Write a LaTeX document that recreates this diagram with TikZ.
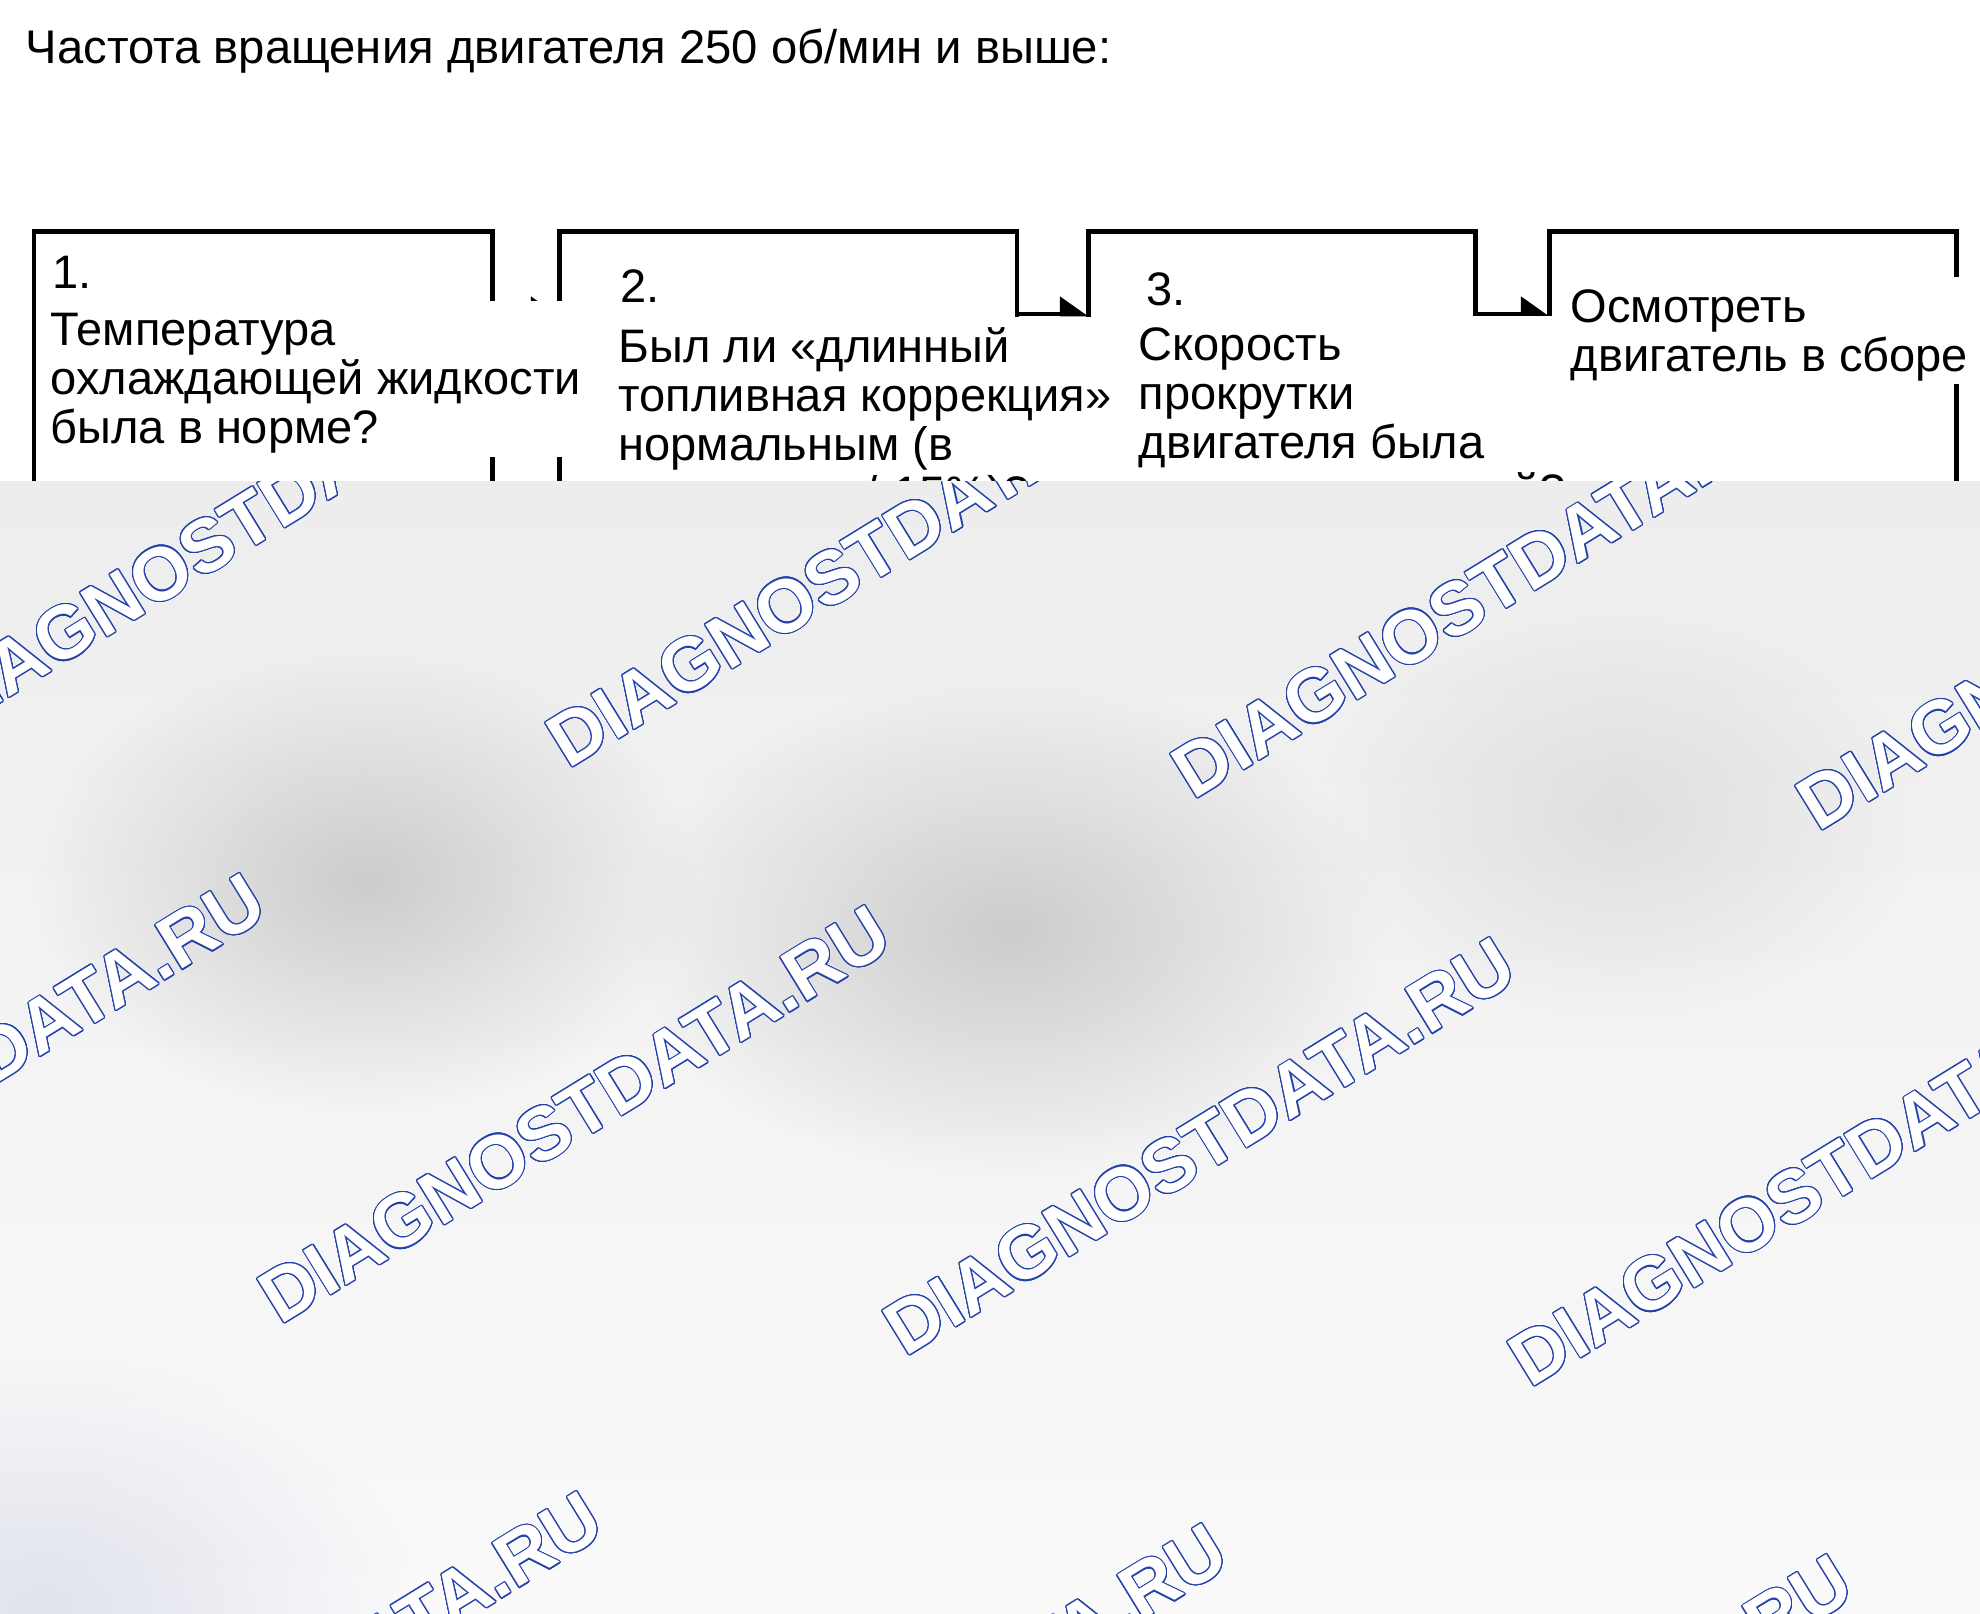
\documentclass[tikz,border=0pt]{standalone}
\usepackage{fontspec}
\setmainfont{Liberation Sans}
\newfontfamily\stampfamily{Liberation Sans}
\usepackage{contour}
\contourlength{0.55pt}
\contournumber{24}
\usetikzlibrary{arrows.meta,fadings}

\definecolor{stampblue}{RGB}{36,66,170}
\definecolor{fogtop}{RGB}{237,237,237}
\definecolor{fogbot}{RGB}{250,250,251}
\definecolor{fogblue}{RGB}{200,204,222}

\tikzfading[name=fogfade, inner color=transparent!0, outer color=transparent!100]

\newcommand\qfont{\fontsize{23.5pt}{24.5pt}\selectfont}
\newcommand\hi{\rule{0pt}{22.5pt}}
\newcommand\lo{\rule[-6.5pt]{0pt}{6.5pt}}

\tikzset{every picture/.style={line width=0.75pt}}
\tikzset{
  box/.style={draw, line width=2.4pt, anchor=north west, outer sep=0pt, inner sep=0pt, minimum height=330pt},
  flow/.style={line width=2.4pt, -{Triangle[harpoon, length=12.5pt, width=17pt]}},
  ask/.style={fill=white, anchor=north west, inner xsep=3pt, inner ysep=0pt, align=left, font=\qfont},
  num/.style={anchor=base west, inner sep=0pt, font=\qfont},
  blob/.style={fill=black!20, path fading=fogfade},
  stamp/.style={anchor=base west, rotate=31.6, inner sep=0pt, text=white, font=\stampfamily\bfseries\fontsize{37.5pt}{40pt}\selectfont}
}

\begin{document}
\begin{tikzpicture}[x=0.5pt,y=0.5pt,yscale=-1,xscale=1]
\useasboundingbox (0,0) rectangle (1980,1613);

% Title
\node[anchor=base west, inner sep=0pt, font=\fontsize{23.6pt}{28pt}\selectfont] (title) at (25,63) {Частота вращения двигателя 250 об/мин и выше:};

% Boxes
\node[box, minimum width=229.25pt] (b1) at (34,231.5) {};
\node[box, minimum width=228.75pt] (b2) at (559.5,231.5) {};
\node[box, minimum width=193.5pt] (b3) at (1088.5,231.5) {};
\node[box, minimum width=203.5pt] (b4) at (1549.5,231.5) {};

% Arrows
\draw[flow] ([yshift=41.25pt]b1.north east) -- ([yshift=41.25pt]b2.north west);
\draw[flow] ([yshift=41.25pt]b2.north east) -- ([yshift=41.25pt]b3.north west);
\draw[flow] ([yshift=41.25pt]b3.north east) -- ([yshift=41.25pt]b4.north west);

% Text Node
\node[num] (n1) at (52,288) {1.};
\node[num] (n2) at (620,302) {2.};
\node[num] (n3) at (1145.5,305) {3.};
\node[ask] (q1) at (44,300) {\hi Температура\\охлаждающей жидкости\\была в норме?\lo};
\node[ask] (q2) at (612,316.7) {\hi Был ли «длинный\\топливная коррекция»\\нормальным (в\\пределах +/-15\%)?\lo};
\node[ask] (q3) at (1132,315) {\hi Скорость\\прокрутки\\двигателя была\\аномально низкой?\lo};
\node[ask] (q4) at (1564,276.7) {\hi Осмотреть\\двигатель в сборе\lo};

% Fog
\shade[top color=fogtop, bottom color=fogbot] (0,481) rectangle (1980,1613);
\fill[blob] (366,880) ellipse [x radius=330, y radius=230];
\fill[blob] (1010,930) ellipse [x radius=380, y radius=250];
\fill[blob, fill opacity=.5] (1620,815) ellipse [x radius=300, y radius=210];
\fill[fogblue, path fading=fogfade, fill opacity=.5] (40,1610) ellipse [x radius=380, y radius=260];

% Stamps
\begin{scope}
\clip (0,481) rectangle (1980,1613);
\foreach \sx/\sy [count=\k] in {-57/738, 568/770, 1193/801, 1818/833, -345/1294, 280/1326, 905/1358, 1530/1389, -8/1912, 617/1944, 1242/1975}
  \node[stamp] (wm\k) at (\sx,\sy) {\contour{stampblue}{DIAGNOSTDATA.RU}};
\end{scope}

\end{tikzpicture}
\end{document}
